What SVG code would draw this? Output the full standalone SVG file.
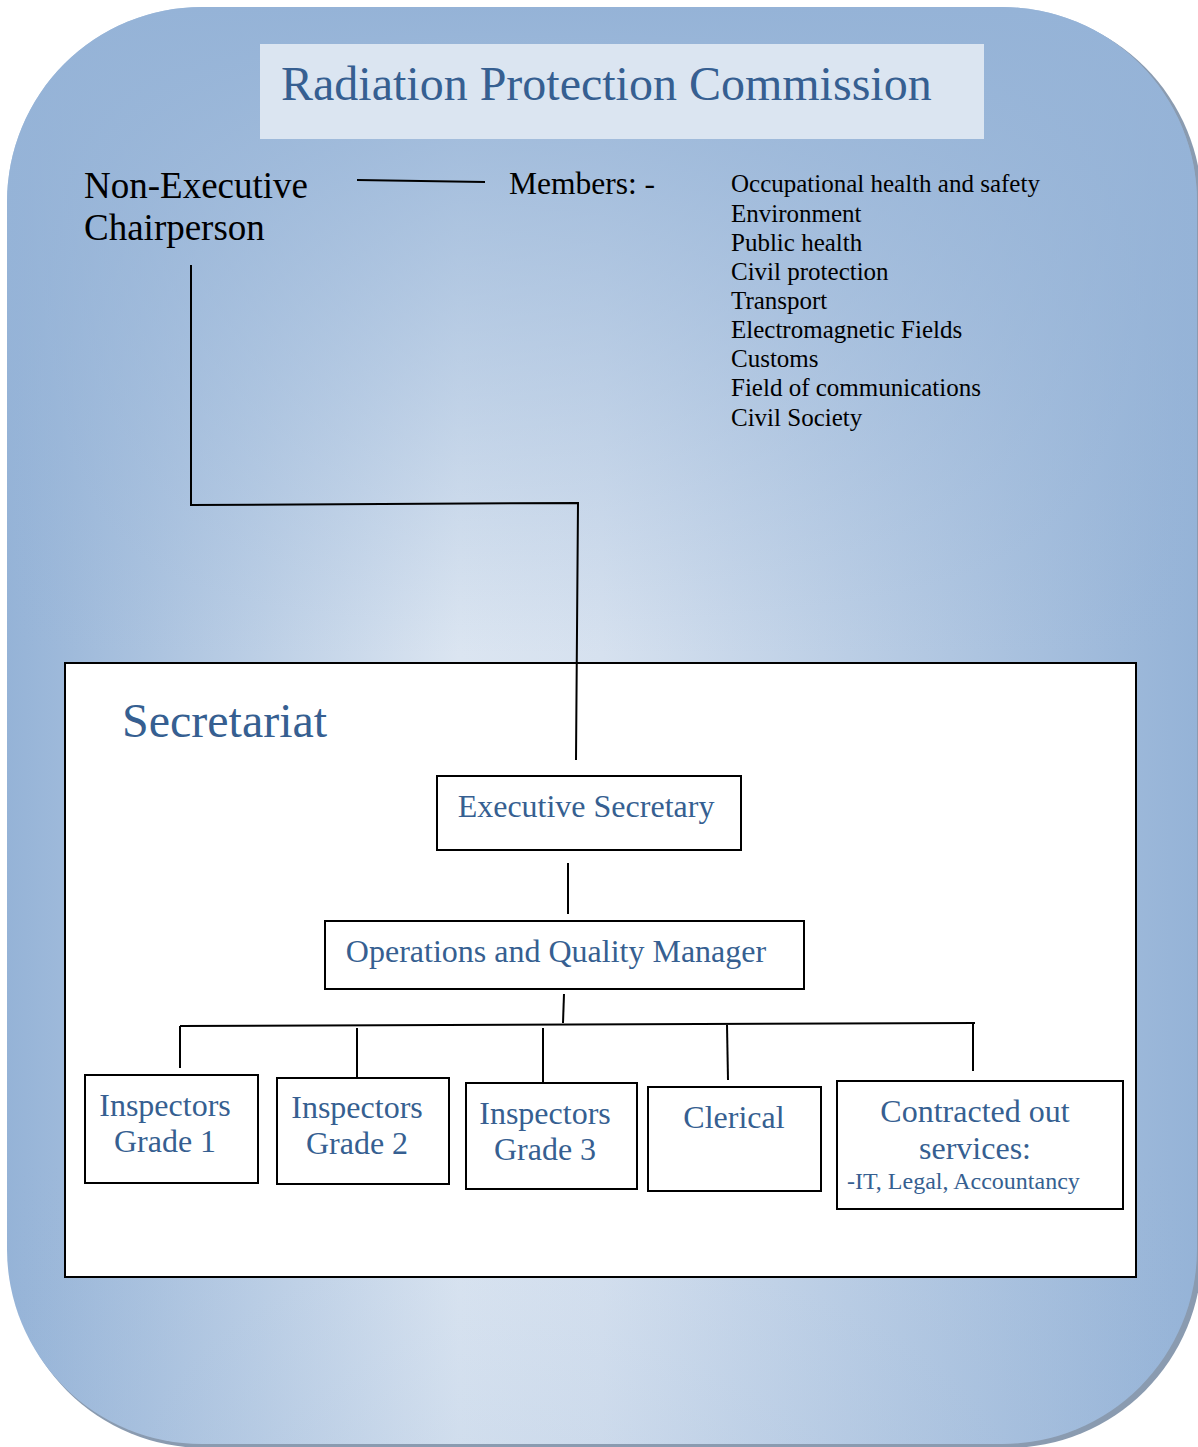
<svg xmlns="http://www.w3.org/2000/svg" width="1198" height="1447" viewBox="0 0 1198 1447">
<defs>
<linearGradient id="hg" x1="0" y1="0" x2="1" y2="0">
<stop offset="0" stop-color="#95b3d7"/>
<stop offset="0.38" stop-color="#dbe5f1"/>
<stop offset="0.5" stop-color="#d6e1ef"/>
<stop offset="1" stop-color="#95b3d7"/>
</linearGradient>
<linearGradient id="vg" x1="0" y1="0" x2="0" y2="1">
<stop offset="0" stop-color="#95b3d7" stop-opacity="1"/>
<stop offset="0.45" stop-color="#95b3d7" stop-opacity="0"/>
<stop offset="0.8" stop-color="#95b3d7" stop-opacity="0"/>
<stop offset="1" stop-color="#95b3d7" stop-opacity="0.15"/>
</linearGradient>
<style>
.ln{stroke:#000;stroke-width:2;fill:none}
.bx{fill:#fff;stroke:#000;stroke-width:2}
.bt{font-family:"Liberation Serif",serif;fill:#365f91;font-size:32px;text-anchor:middle}
.mem{font-family:"Liberation Serif",serif;fill:#000;font-size:25px}
</style>
</defs>
<g id="background">
<rect x="10" y="10" width="1192" height="1438" rx="195" ry="195" fill="#8a9bb0"/>
<rect x="7" y="7" width="1190" height="1437" rx="195" ry="195" fill="url(#hg)"/>
<rect x="7" y="7" width="1190" height="1437" rx="195" ry="195" fill="url(#vg)"/>
</g>
<g id="title">
<rect x="260" y="44" width="724" height="95" fill="#dbe5f1"/>
<text x="281" y="100" font-family="Liberation Serif, serif" font-size="48" fill="#365f91">Radiation Protection Commission</text>
</g>
<g id="chairperson">
<text x="84" y="198" font-family="Liberation Serif, serif" font-size="37" fill="#000">Non-Executive</text>
<text x="84" y="240" font-family="Liberation Serif, serif" font-size="37" fill="#000">Chairperson</text>
</g>
<g id="members">
<text x="509" y="194" font-family="Liberation Serif, serif" font-size="31.5" fill="#000">Members: -</text>
</g>
<g id="members-list">
<text class="mem" x="731" y="192">Occupational health and safety</text>
<text class="mem" x="731" y="222">Environment</text>
<text class="mem" x="731" y="251">Public health</text>
<text class="mem" x="731" y="280">Civil protection</text>
<text class="mem" x="731" y="309">Transport</text>
<text class="mem" x="731" y="338">Electromagnetic Fields</text>
<text class="mem" x="731" y="367">Customs</text>
<text class="mem" x="731" y="396">Field of communications</text>
<text class="mem" x="731" y="426">Civil Society</text>
</g>
<g id="secretariat">
<rect x="65" y="663" width="1071" height="614" class="bx"/>
<text x="122" y="737" font-family="Liberation Serif, serif" font-size="48" fill="#365f91">Secretariat</text>
</g>
<g id="connectors">
<path class="ln" d="M357 180 L485 182"/>
<path class="ln" d="M191 265 L191 505 L578 503 L576 760"/>
<path class="ln" d="M568 863 L568 914"/>
<path class="ln" d="M564 994 L563 1023"/>
<path class="ln" d="M180 1026 L975 1023"/>
<path class="ln" d="M180 1026 L180 1068"/>
<path class="ln" d="M357 1028 L357 1078"/>
<path class="ln" d="M543 1028 L543 1082"/>
<path class="ln" d="M727 1025 L728 1080"/>
<path class="ln" d="M973 1023 L973 1071"/>
</g>
<g id="executive-secretary">
<rect x="437" y="776" width="304" height="74" class="bx"/>
<text class="bt" x="586" y="817">Executive Secretary</text>
</g>
<g id="operations-manager">
<rect x="325" y="921" width="479" height="68" class="bx"/>
<text class="bt" x="556" y="962">Operations and Quality Manager</text>
</g>
<g id="inspectors-1">
<rect x="85" y="1075" width="173" height="108" class="bx"/>
<text class="bt" x="165" y="1116">Inspectors</text>
<text class="bt" x="165" y="1152">Grade 1</text>
</g>
<g id="inspectors-2">
<rect x="277" y="1078" width="172" height="106" class="bx"/>
<text class="bt" x="357" y="1118">Inspectors</text>
<text class="bt" x="357" y="1154">Grade 2</text>
</g>
<g id="inspectors-3">
<rect x="466" y="1083" width="171" height="106" class="bx"/>
<text class="bt" x="545" y="1124">Inspectors</text>
<text class="bt" x="545" y="1160">Grade 3</text>
</g>
<g id="clerical">
<rect x="648" y="1087" width="173" height="104" class="bx"/>
<text class="bt" x="734" y="1128">Clerical</text>
</g>
<g id="contracted">
<rect x="837" y="1081" width="286" height="128" class="bx"/>
<text class="bt" x="975" y="1122">Contracted out</text>
<text class="bt" x="975" y="1159">services:</text>
<text x="847" y="1189" font-family="Liberation Serif, serif" font-size="24" fill="#365f91">-IT, Legal, Accountancy</text>
</g>
</svg>
